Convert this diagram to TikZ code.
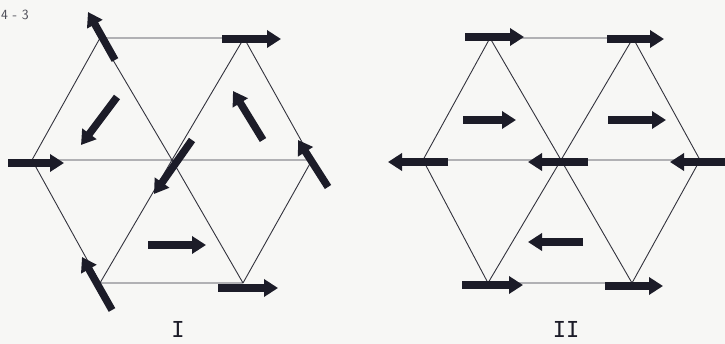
\documentclass[tikz,border=0pt]{standalone}
\usepackage{fontspec}
\newfontfamily\lblfont{DejaVu Sans Mono}
\usetikzlibrary{arrows.meta}
\definecolor{ink}{RGB}{28,28,40}
\definecolor{paper}{RGB}{247,247,245}
\begin{document}
\begin{tikzpicture}[x=1pt,y=-1pt,
  lat/.style={draw=ink!90,line width=0.9pt},
  spin/.style={draw=ink,line width=7.5pt,-{Triangle[length=14pt,width=17pt]}},
  lbl/.style={font=\fontsize{22}{22}\selectfont\lblfont,text=ink,inner sep=0pt}]
\fill[paper] (0,0) rectangle (725,344);
\clip (0,0) rectangle (725,344);
\useasboundingbox (0,0) rectangle (725,344);
\node[font=\fontsize{14}{14}\selectfont\sffamily,text=ink!80,anchor=west,inner sep=0pt] (num) at (1,15) {4 - 3};
% ---------- lattice I
\coordinate (a1) at (100,38);  \coordinate (a2) at (244,38);
\coordinate (a3) at (32,160);  \coordinate (a0) at (172,160); \coordinate (a4) at (312,160);
\coordinate (a5) at (100,283); \coordinate (a6) at (243,283);
\draw[lat] (a1) -- (a2) (a3) -- (a4) (a5) -- (a6)
  (a1) -- (a3) -- (a5) (a2) -- (a4) -- (a6)
  (a1) -- (a0) -- (a6) (a2) -- (a0) -- (a5);
% spins I
\draw[spin] (115,60) -- (88,12);
\draw[spin] (222,39) -- (281,39);
\draw[spin] (8,163) -- (64,163);
\draw[spin] (192,140) -- (154,194);
\draw[spin] (328,187) -- (298,140);
\draw[spin] (112,310) -- (82,257);
\draw[spin] (218,288) -- (278,288);
\draw[spin] (117,97) -- (81,145);
\draw[spin] (263,140) -- (233,91);
\draw[spin] (148,245) -- (206,245);
\node[lbl] (l1) at (178,329) {I};
% ---------- lattice II
\coordinate (b1) at (490,38);  \coordinate (b2) at (633,38);
\coordinate (b3) at (423,160); \coordinate (b0) at (561,160); \coordinate (b4) at (700,160);
\coordinate (b5) at (488,283); \coordinate (b6) at (632,283);
\draw[lat] (b1) -- (b2) (b3) -- (b4) (b5) -- (b6)
  (b1) -- (b3) -- (b5) (b2) -- (b4) -- (b6)
  (b1) -- (b0) -- (b6) (b2) -- (b0) -- (b5);
% spins II
\draw[spin] (465,37) -- (524,37);
\draw[spin] (607,39) -- (664,39);
\draw[spin] (448,162) -- (388,162);
\draw[spin] (588,162) -- (528,162);
\draw[spin] (730,162) -- (670,162);
\draw[spin] (462,285) -- (523,285);
\draw[spin] (605,286) -- (663,286);
\draw[spin] (463,120) -- (516,120);
\draw[spin] (608,120) -- (666,120);
\draw[spin] (583,242) -- (528,242);
\node[lbl] (l2) at (566,329) {II};
\end{tikzpicture}
\end{document}
